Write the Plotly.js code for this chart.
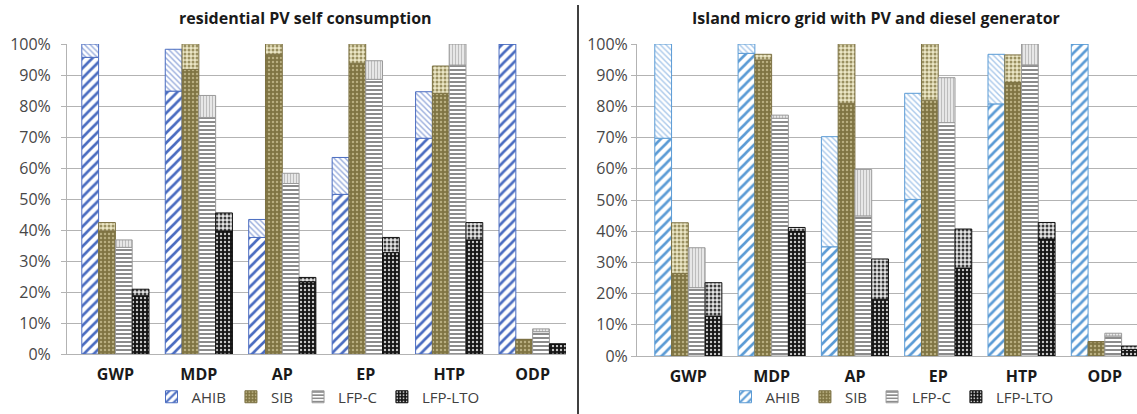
<!DOCTYPE html>
<html>
<head>
<meta charset="utf-8">
<script src="https://cdn.plot.ly/plotly-3.0.1.min.js"></script>
<style>html,body{margin:0;padding:0;background:#fff;} #chart{width:1137px;height:414px;}</style>
</head>
<body>
<div id="chart"></div>
<script>
// ---------- DATA ----------
const categories = ['GWP', 'MDP', 'AP', 'EP', 'HTP', 'ODP'];
const seriesNames = ['AHIB', 'SIB', 'LFP-C', 'LFP-LTO'];
const panelTitles = ['residential PV self consumption', 'Island micro grid with PV and diesel generator'];

// residential PV self consumption (%): lower part and total height of each stacked bar
const resAHIBLow  = [95.7, 84.8, 37.6, 51.5, 69.6, 100];
const resAHIBTot  = [100, 98.3, 43.4, 63.4, 84.6, 100];
const resSIBLow   = [39.7, 91.8, 96.7, 93.8, 84.1, 4.7];
const resSIBTot   = [42.4, 100, 100, 100, 92.9, 4.7];
const resLFPCLow  = [34.4, 76.3, 55.0, 88.6, 93.2, 7.2];
const resLFPCTot  = [36.8, 83.4, 58.3, 94.6, 100, 8.1];
const resLTOLow   = [18.8, 39.7, 23.3, 32.7, 36.8, 3.2];
const resLTOTot   = [20.9, 45.5, 24.7, 37.6, 42.4, 3.2];

// Island micro grid with PV and diesel generator (%)
const islAHIBLow  = [69.8, 97.0, 35.0, 50.2, 80.8, 100];
const islAHIBTot  = [100, 100, 70.3, 84.2, 96.7, 100];
const islSIBLow   = [26.5, 94.9, 81.0, 82.0, 87.7, 4.6];
const islSIBTot   = [42.7, 96.7, 100, 100, 96.5, 4.6];
const islLFPCLow  = [21.9, 76.2, 44.9, 74.8, 93.3, 6.4];
const islLFPCTot  = [34.7, 77.2, 59.8, 89.2, 100, 7.3];
const islLTOLow   = [12.8, 39.9, 18.2, 28.2, 37.5, 2.1];
const islLTOTot   = [23.5, 41.2, 31.1, 40.7, 42.8, 3.2];

const yTickVals   = [0, 10, 20, 30, 40, 50, 60, 70, 80, 90, 100];
const yTickLabels = ['0%', '10%', '20%', '30%', '40%', '50%', '60%', '70%', '80%', '90%', '100%'];

// ---------- STYLES ----------
const W = 1137, H = 414;
const FONT = 'Open Sans, Noto Sans, sans-serif';

function styles(blue, blueLight) {
  return [
    { line: blue, low: {shape: '/', fgcolor: blue, bgcolor: '#ffffff', size: 7, solidity: 0.38},
      up: {shape: '\\', fgcolor: blueLight, bgcolor: '#ffffff', size: 4, solidity: 0.35} },
    { line: '#7d7244', low: {shape: '.', fgcolor: '#b8ae80', bgcolor: '#7f7443', size: 4, solidity: 0.3},
      up: {shape: '.', fgcolor: '#9a9060', bgcolor: '#ece7c6', size: 4, solidity: 0.45} },
    { line: '#9a9a9a', low: {shape: '-', fgcolor: '#7f7f7f', bgcolor: '#ffffff', size: 4, solidity: 0.45},
      up: {shape: '|', fgcolor: '#bdbdbd', bgcolor: '#f0f0f0', size: 3, solidity: 0.45} },
    { line: '#111111', low: {shape: '.', fgcolor: '#c8c8c8', bgcolor: '#151515', size: 4, solidity: 0.28},
      up: {shape: '.', fgcolor: '#3a3a3a', bgcolor: '#e6e6e6', size: 4, solidity: 0.45} }
  ];
}

const panels = [
  { xa: 'x', ya: 'y', legend: 'legend', low: [resAHIBLow, resSIBLow, resLFPCLow, resLTOLow],
    tot: [resAHIBTot, resSIBTot, resLFPCTot, resLTOTot], st: styles('#4a6cc0', '#98acdc') },
  { xa: 'x2', ya: 'y2', legend: 'legend2', low: [islAHIBLow, islSIBLow, islLFPCLow, islLTOLow],
    tot: [islAHIBTot, islSIBTot, islLFPCTot, islLTOTot], st: styles('#5b9bd5', '#a9c8ea') }
];

const traces = [];
panels.forEach((p, pi) => {
  seriesNames.forEach((name, si) => {
    const st = p.st[si];
    const low = p.low[si], tot = p.tot[si];
    traces.push({
      type: 'bar', x: categories, y: low, name: name, xaxis: p.xa, yaxis: p.ya,
      offsetgroup: name, legend: p.legend, legendgroup: p.legend + name, showlegend: true,
      marker: { color: st.low.bgcolor, pattern: Object.assign({fillmode: 'replace'}, st.low), line: {color: st.line, width: 1} },
      hoverinfo: 'x+y+name'
    });
    traces.push({
      type: 'bar', x: categories, y: tot.map((t, i) => t - low[i]), base: low, name: name + ' (upper)',
      xaxis: p.xa, yaxis: p.ya, offsetgroup: name, legend: p.legend, legendgroup: p.legend + name, showlegend: false,
      marker: { color: st.up.bgcolor, pattern: Object.assign({fillmode: 'replace'}, st.up), line: {color: st.line, width: 1} },
      hoverinfo: 'x+y+name'
    });
  });
});

const gridColor = '#b3b3b3';
function yAxis(domain, standoff, anchor) {
  return {
    domain: domain, range: [0, 100], tickmode: 'array', tickvals: yTickVals, ticktext: yTickLabels, anchor: anchor,
    showgrid: true, gridcolor: gridColor, gridwidth: 1,
    showline: true, linecolor: gridColor, linewidth: 1,
    ticks: 'outside', ticklen: 5, tickcolor: gridColor,
    tickfont: {family: FONT, size: 16, color: '#474747'}, ticklabelstandoff: standoff,
    zeroline: false, fixedrange: true
  };
}
function xAxis(domain, range, anchor) {
  return {
    domain: domain, range: range, type: 'category', anchor: anchor,
    showgrid: false, showline: true, linecolor: gridColor, linewidth: 1, ticks: '',
    tickfont: {family: FONT, size: 16, color: '#1a1a1a', weight: 'bold'}, ticklabelstandoff: 6,
    zeroline: false, fixedrange: true
  };
}

const layout = {
  width: W, height: H, margin: {l: 0, r: 0, t: 0, b: 0},
  paper_bgcolor: '#ffffff', plot_bgcolor: 'rgba(0,0,0,0)',
  barmode: 'group', bargap: 0.195, bargroupgap: 0,
  font: {family: FONT, color: '#404040'},
  xaxis:  xAxis([67 / W, 566 / W], [-0.58, 5.4], 'y'),
  yaxis:  yAxis([60 / H, 370 / H], 7, 'x'),
  xaxis2: xAxis([637 / W, 1137 / W], [-0.616, 5.386], 'y2'),
  yaxis2: yAxis([58 / H, 370 / H], 0, 'x2'),
  legend:  {orientation: 'h', x: 318 / W, xanchor: 'center', y: 17 / H, yanchor: 'middle',
            font: {family: FONT, size: 15, color: '#404040'}, traceorder: 'normal', bgcolor: 'rgba(0,0,0,0)'},
  legend2: {orientation: 'h', x: 892 / W, xanchor: 'center', y: 17 / H, yanchor: 'middle',
            font: {family: FONT, size: 15, color: '#404040'}, traceorder: 'normal', bgcolor: 'rgba(0,0,0,0)'},
  annotations: [
    {text: panelTitles[0], xref: 'paper', yref: 'paper', x: 305 / W, y: (H - 18) / H, xanchor: 'center', yanchor: 'middle',
     showarrow: false, font: {family: FONT, size: 16, color: '#1a1a1a', weight: 'bold'}},
    {text: panelTitles[1], xref: 'paper', yref: 'paper', x: 876 / W, y: (H - 18) / H, xanchor: 'center', yanchor: 'middle',
     showarrow: false, font: {family: FONT, size: 16, color: '#1a1a1a', weight: 'bold'}}
  ],
  shapes: [
    {type: 'line', xref: 'paper', yref: 'paper', x0: 578 / W, x1: 578 / W, y0: 0, y1: (H - 5) / H,
     line: {color: '#000000', width: 1.5}}
  ],
  showlegend: true
};

Plotly.newPlot('chart', traces, layout, {displayModeBar: false, staticPlot: true});
</script>
</body>
</html>
